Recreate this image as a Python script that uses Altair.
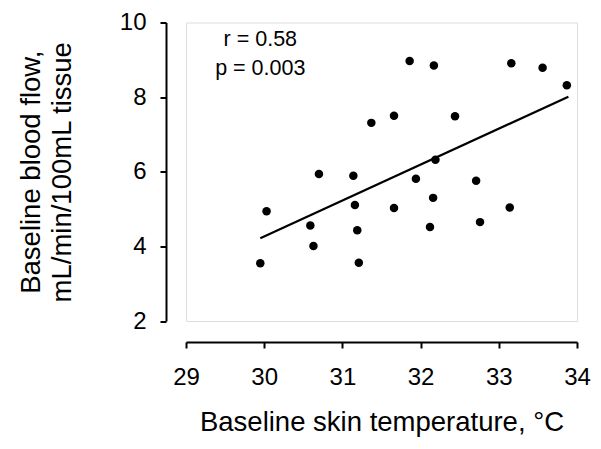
import altair as alt
import pandas as pd

# Baseline skin temperature (°C) and baseline blood flow (mL/min/100mL tissue)
skin_temp = [31.86, 32.17, 33.16, 33.56, 33.87, 31.37, 31.66, 32.44, 32.19, 30.70,
             31.14, 31.94, 32.71, 30.03, 31.16, 31.66, 32.16, 33.14, 30.59, 31.19,
             32.12, 32.76, 30.63, 29.95, 31.21]
blood_flow = [8.97, 8.85, 8.91, 8.79, 8.32, 7.31, 7.50, 7.49, 6.32, 5.94,
              5.89, 5.81, 5.76, 4.94, 5.11, 5.03, 5.30, 5.04, 4.56, 4.43,
              4.52, 4.65, 4.01, 3.55, 3.56]

# Regression line endpoints as drawn
fit_x = [29.95, 33.89]
fit_y = [4.22, 8.01]

# Annotation
ann_text = ["r = 0.58", "p = 0.003"]
ann_x = [29.95, 29.95]
ann_y = [9.53, 8.75]

x_ticks = [29, 30, 31, 32, 33, 34]
y_ticks = [2, 4, 6, 8, 10]

FONT = "Liberation Sans"

pts = pd.DataFrame({"t": skin_temp, "f": blood_flow})
fit = pd.DataFrame({"t": fit_x, "f": fit_y})
ann = pd.DataFrame({"t": ann_x, "f": ann_y, "label": ann_text})

xscale = alt.Scale(domain=[29, 34], nice=False, zero=False)
yscale = alt.Scale(domain=[2, 10], nice=False, zero=False)

xaxis = alt.Axis(
    title="Baseline skin temperature, °C",
    values=x_ticks, format="d", offset=21, grid=False, labelFlush=False,
    domainColor="black", domainWidth=2, tickColor="black", tickWidth=2, tickSize=6,
    labelFont=FONT, labelFontSize=24, labelColor="black", labelPadding=17,
    titleFont=FONT, titleFontSize=27.5, titleFontWeight="normal", titleColor="black",
    titlePadding=19,
)
yaxis = alt.Axis(
    title=["Baseline blood flow,", "mL/min/100mL tissue"],
    values=y_ticks, format="d", offset=20, grid=False, labelFlush=False,
    domainColor="black", domainWidth=2, tickColor="black", tickWidth=2, tickSize=6,
    labelFont=FONT, labelFontSize=24, labelColor="black", labelPadding=14,
    titleFont=FONT, titleFontSize=27.5, titleFontWeight="normal", titleColor="black",
    titlePadding=43, titleLineHeight=31,
)

points = alt.Chart(pts).mark_circle(size=72, color="black", opacity=1).encode(
    x=alt.X("t:Q", scale=xscale, axis=xaxis),
    y=alt.Y("f:Q", scale=yscale, axis=yaxis),
)
line = alt.Chart(fit).mark_line(color="black", strokeWidth=2.2).encode(
    x=alt.X("t:Q", scale=xscale),
    y=alt.Y("f:Q", scale=yscale),
)
text = alt.Chart(ann).mark_text(font=FONT, fontSize=21.5, color="black",
                                align="center", baseline="middle").encode(
    x=alt.X("t:Q", scale=xscale),
    y=alt.Y("f:Q", scale=yscale),
    text="label:N",
)

chart = (points + line + text).properties(
    width=391, height=298.5,
    autosize=alt.AutoSizeParams(type="none"),
    padding={"left": 178, "top": 14.5, "right": 16, "bottom": 120},
).configure_view(stroke=None).configure(background="white")

chart.save("out.html", embed_options={"renderer": "svg", "actions": False})
